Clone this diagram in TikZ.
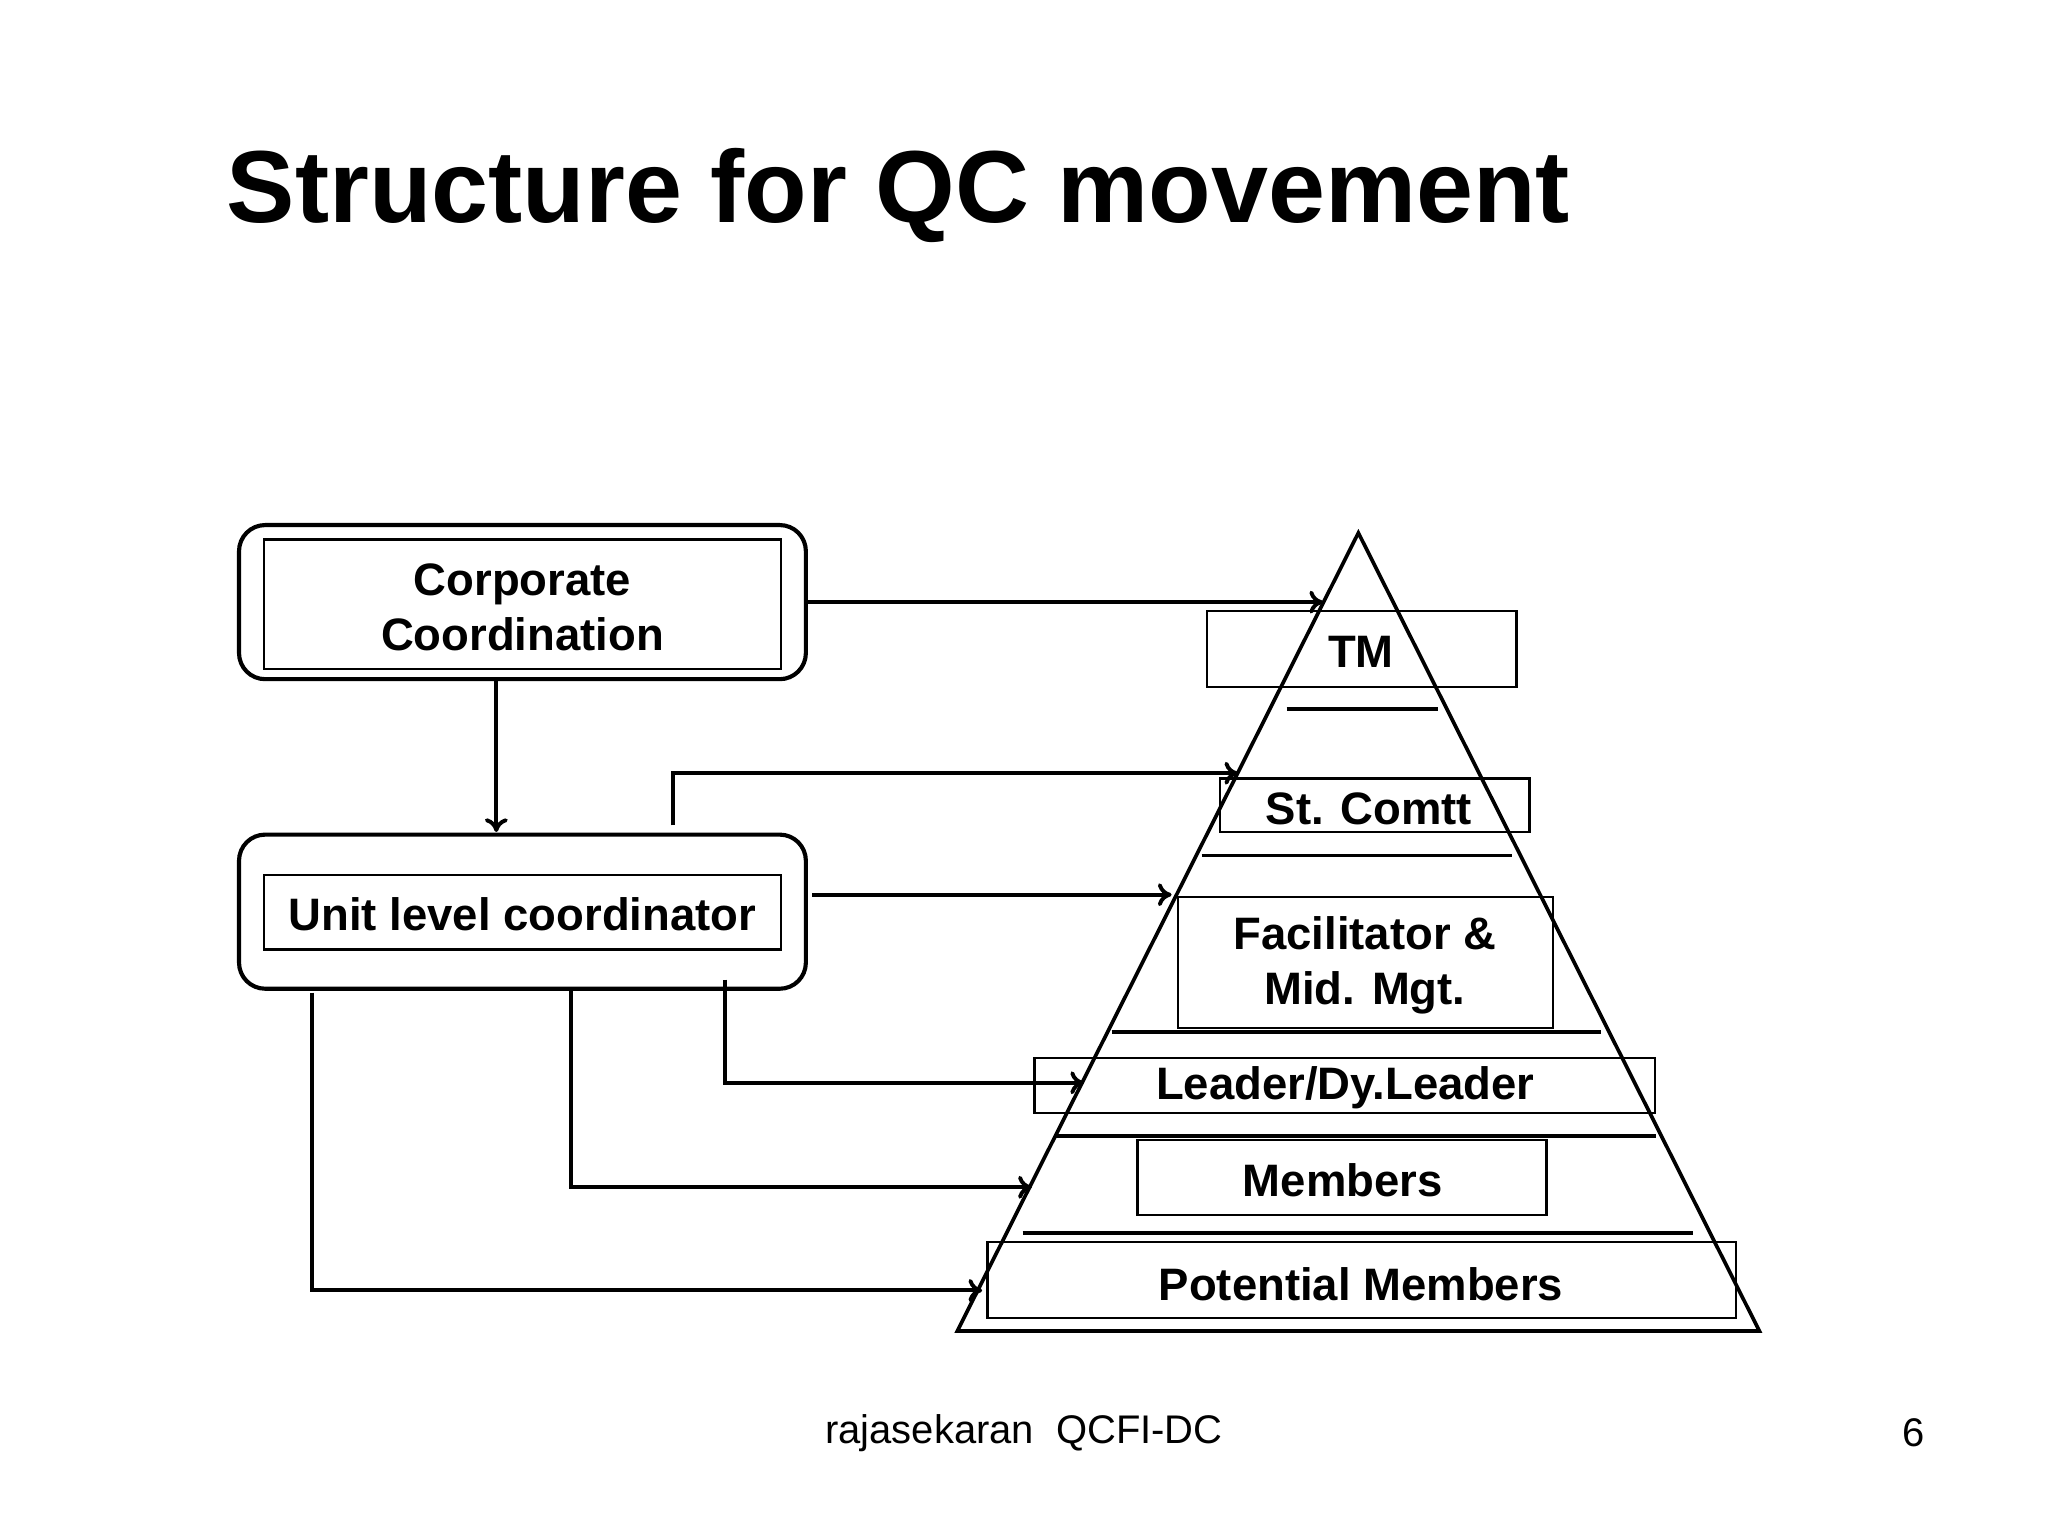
\documentclass[tikz,border=0pt]{standalone}
\usepackage{fontspec}
\setmainfont{Liberation Sans}
\usetikzlibrary{arrows.meta}
\begin{document}
\begin{tikzpicture}[x=0.01cm,y=-0.01cm,
  lbl/.style={font=\bfseries\fontsize{9.9}{12}\selectfont,align=center,inner sep=0pt},
  box/.style={draw,line width=0.5pt},
  rbox/.style={draw,line width=0.9pt,rounded corners=0.2cm},
  conn/.style={line width=0.85pt,-{To[length=3pt,width=5pt]}},
  bar/.style={line width=0.8pt}]
\useasboundingbox (0,0) rectangle (1568,1176);
\node[anchor=base west,inner sep=0pt,font=\bfseries\fontsize{22.3}{26}\selectfont] (title) at (173,170) {Structure for QC movement};
% left boxes
\draw[rbox] (183,402) rectangle (617,520);
\draw[box] (202,413) rectangle (598,512);
\node[lbl] (corp) at (400,465) {Corporate\\Coordination};
\draw[rbox] (183,639) rectangle (617,757);
\draw[box] (202,670) rectangle (598,727);
\node[lbl] (unit) at (400,700) {Unit level coordinator};
% pyramid
\coordinate (apex) at (1040,408);
\draw[line width=0.8pt] (apex) -- (1347,1019) -- (733,1019) -- cycle;
\draw[box] (924,468) rectangle (1161,526); \node[lbl] (tm) at (1042,499) {TM};
\draw[bar] (985,543) -- (1101,543);
\draw[box] (934,596) rectangle (1171,637); \node[lbl] (st) at (1048,619) {St. Comtt};
\draw[bar] (920,655) -- (1158,655);
\draw[box] (902,687) rectangle (1189,787); \node[lbl] (fac) at (1045,739) {Facilitator \&\\Mid. Mgt.};
\draw[bar] (851,790) -- (1226,790);
\draw[box] (792,810) rectangle (1267,852); \node[lbl] (lead) at (1030,833) {Leader/Dy.Leader};
\draw[bar] (808,870) -- (1268,870);
\draw[box] (871,873) rectangle (1184,930); \node[lbl] (mem) at (1028,904) {Members};
\draw[bar] (783,944) -- (1296,944);
\draw[box] (756,951) rectangle (1329,1009); \node[lbl] (pot) at (1042,983) {Potential Members};
% connectors
\coordinate (c1s) at (617,461); \coordinate (c1e) at (1013,461);
\draw[conn] (c1s) -- (c1e);
\coordinate (c2s) at (380,520); \coordinate (c2e) at (380,637);
\draw[conn] (c2s) -- (c2e);
\coordinate (c3s) at (515,632); \coordinate (c3e) at (948,592);
\draw[conn] (c3s) |- (c3e);
\coordinate (c4s) at (622,685); \coordinate (c4e) at (897,685);
\draw[conn] (c4s) -- (c4e);
\coordinate (c5s) at (555,750); \coordinate (c5e) at (830,829);
\draw[conn] (c5s) |- (c5e);
\coordinate (c6s) at (437,757); \coordinate (c6e) at (790,909);
\draw[conn] (c6s) |- (c6e);
\coordinate (c7s) at (239,760); \coordinate (c7e) at (752,988);
\draw[conn] (c7s) |- (c7e);
% footer
\node[font=\fontsize{8.7}{10.5}\selectfont,inner sep=0pt] (foot) at (784,1097) {rajasekaran\ \ QCFI-DC};
\node[font=\fontsize{8.7}{10.5}\selectfont,inner sep=0pt] (pg) at (1465,1097) {6};
\end{tikzpicture}
\end{document}
